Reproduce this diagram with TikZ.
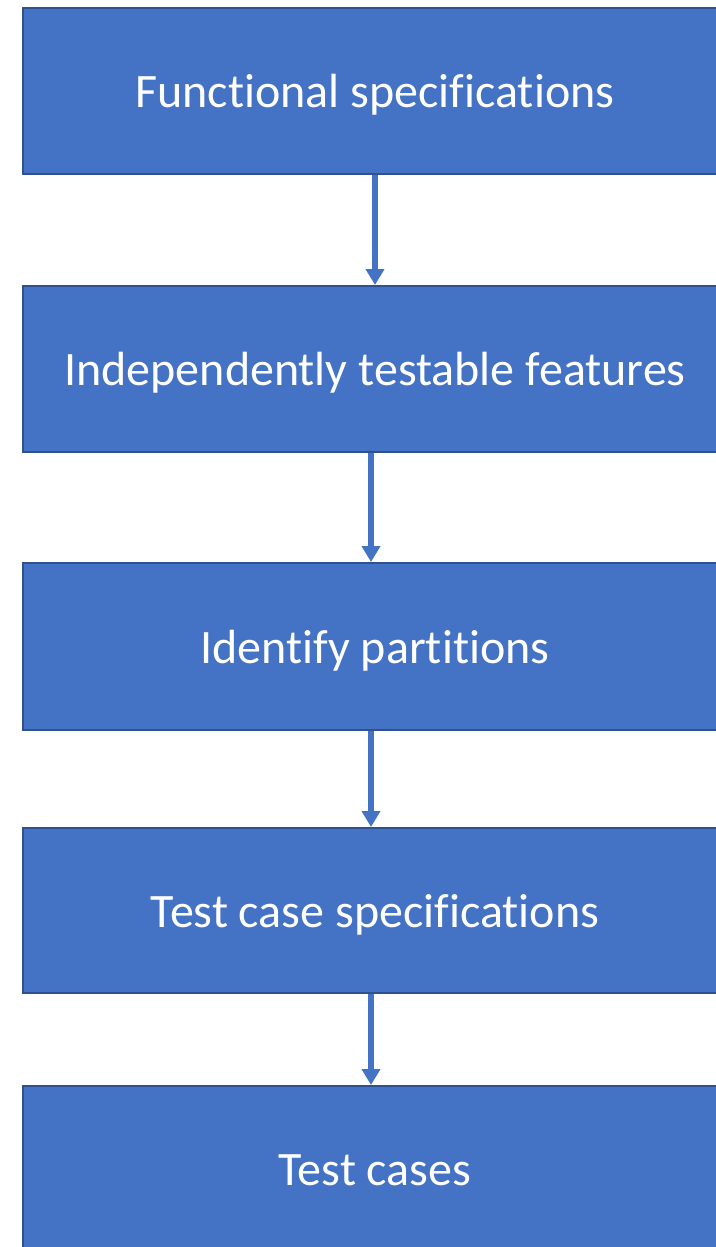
\documentclass[tikz,border=0pt]{standalone}
\usepackage{fontspec}
\setmainfont{Carlito}[Ligatures=NoCommon]
\usetikzlibrary{arrows.meta}
\definecolor{boxfill}{HTML}{4472C4}
\definecolor{boxline}{HTML}{2F528F}
\tikzset{
  stepbox/.style={draw=boxline, fill=boxfill, line width=2pt, text=white,
    minimum width=704pt, inner sep=0pt, text height=43pt, text depth=10pt,
    font=\fontsize{48}{56}\selectfont},
  flow/.style={draw=boxfill, line width=6pt, -{Triangle[width=18pt,length=16pt]}}
}
\begin{document}
\begin{tikzpicture}[x=1pt,y=-1pt]
\useasboundingbox (0,0) rectangle (715,1247);
\node[stepbox, minimum height=166pt] (b1) at (375,91) {Functional specifications};
\node[stepbox, minimum height=166pt] (b2) at (375,369) {Independently testable features};
\node[stepbox, minimum height=167pt] (b3) at (375,646.5) {Identify partitions};
\node[stepbox, minimum height=165pt] (b4) at (375,910.5) {Test case specifications};
\node[stepbox, minimum height=166pt, anchor=north] (b5) at (375,1085) {Test cases};
\draw[flow] ([xshift=0pt]b1.south) -- ([xshift=0pt]b2.north);
\draw[flow] ([xshift=-4pt]b2.south) -- ([xshift=-4pt]b3.north);
\draw[flow] ([xshift=-4pt]b3.south) -- ([xshift=-4pt]b4.north);
\draw[flow] ([xshift=-4pt]b4.south) -- ([xshift=-4pt]b5.north);
\end{tikzpicture}
\end{document}
